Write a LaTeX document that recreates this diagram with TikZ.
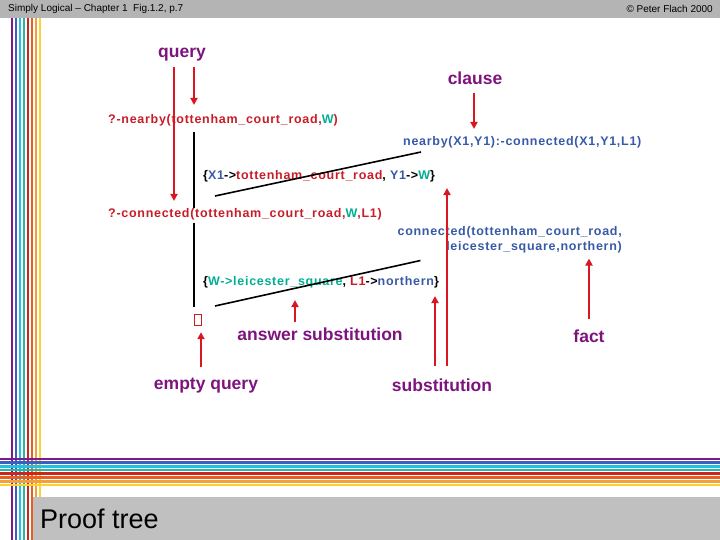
\documentclass[tikz,border=0pt]{standalone}
\usepackage{fontspec}
\setmainfont{Liberation Sans}
\newfontfamily\termfont[LetterSpace=5.7]{Liberation Sans}
\usetikzlibrary{arrows.meta,positioning,calc}
\definecolor{bargray}{RGB}{180,180,180}
\definecolor{boxgray}{RGB}{192,192,192}
\definecolor{lblpurple}{RGB}{125,20,125}
\definecolor{termred}{RGB}{200,28,40}
\definecolor{termblue}{RGB}{55,90,165}
\definecolor{termteal}{RGB}{0,175,145}
\definecolor{arrred}{RGB}{218,22,34}
\definecolor{sA}{RGB}{125,25,140}
\definecolor{sB}{RGB}{60,95,190}
\definecolor{sC}{RGB}{40,190,225}
\definecolor{sD}{RGB}{35,185,170}
\definecolor{sE}{RGB}{210,35,25}
\definecolor{sF}{RGB}{232,95,35}
\definecolor{sG}{RGB}{242,160,60}
\definecolor{sH}{RGB}{250,210,50}
\newcommand{\Rd}[1]{\textcolor{termred}{#1}}
\newcommand{\Bl}[1]{\textcolor{termblue}{#1}}
\newcommand{\Tl}[1]{\textcolor{termteal}{#1}}
\tikzset{
  term/.style={anchor=west, inner sep=0pt, font=\termfont\bfseries\fontsize{12.5}{15}\selectfont},
  lbl/.style={inner sep=0pt, text=lblpurple, font=\bfseries\fontsize{17.5}{20}\selectfont},
  redarr/.style={-{Triangle[length=7pt,width=7pt]}, arrred, line width=2.8pt},
  treeline/.style={black, line width=1.6pt},
}
\begin{document}
\begin{tikzpicture}[x=1pt, y=-1pt]
  \useasboundingbox (0,0) rectangle (720,540);
  % header bar
  \fill[bargray] (0,0) rectangle (720,18);
  \node[anchor=west, inner sep=0pt, font=\fontsize{10}{12}\selectfont] (hdl) at (8,9) {Simply Logical -- Chapter 1\ \ Fig.1.2, p.7};
  \node[anchor=east, inner sep=0pt, font=\fontsize{10}{12}\selectfont] (hdr) at (713,9) {\textcopyright{} Peter Flach 2000};
  % stripes
  \foreach \c [count=\i from 0] in {sA,sB,sC,sD,sE,sF,sG,sH}
    \fill[\c] (10.6+4*\i,18) rectangle ++(2.8,522);
  \foreach \c [count=\i from 0] in {sA,sB,sC,sD,sE,sF,sG,sH}
    \fill[\c] (0,457.6+3.7*\i) rectangle ++(720,2.7);
  \fill[boxgray] (33,497) rectangle (720,540);
  \node[anchor=west, inner sep=0pt, font=\fontsize{27}{30}\selectfont] (title) at (40,519) {Proof tree};

  % terms
  \node[term] (goal1) at (108,120) {\Rd{?-nearby(tottenham\_court\_road,}\Tl{W}\Rd{)}};
  \node[term] (clause1) at (403,142) {\Bl{nearby(X1,Y1):-connected(X1,Y1,L1)}};
  \node[term] (subst1) at (203,176) {\{\Bl{X1}->\Rd{tottenham\_court\_road}, \Bl{Y1}->\Tl{W}\}};
  \node[term] (goal2) at (108,214) {\Rd{?-connected(tottenham\_court\_road,}\Tl{W}\Rd{,L1)}};
  \node[term, anchor=east, align=right, text=termblue] (fact1) at (622,240) {connected(tottenham\_court\_road,\\leicester\_square,northern)};
  \node[term] (subst2) at (203,282) {\{\Tl{W->leicester\_square}, \Rd{L1}->\Bl{northern}\}};
  \node[draw=termred, line width=1.4pt, inner sep=0pt, minimum width=7pt, minimum height=11pt] (empty) at (198,320) {};

  % labels
  \node[lbl] (query) at (182,55) {query};
  \node[lbl] (clause) at (475,78) {clause};
  \node[lbl] (ansub) at (320,334) {answer substitution};
  \node[lbl] (factlbl) at (589,336) {fact};
  \node[lbl] (emptylbl) at (206,386) {empty query};
  \node[lbl] (sublbl) at (442,385) {substitution};

  % proof tree
  \draw[treeline] ($(goal1.west)+(86,12)$) coordinate (t1) -- (t1 |- goal2.north);
  \draw[treeline, shorten >=7pt] ($(goal2.west)+(86,9)$) coordinate (t2) -- (t2 |- empty.north);
  \draw[treeline] ($(subst1.west)+(12,20)$) -- ($(clause1.west)+(18,10)$);
  \draw[treeline] ($(subst2.west)+(12,24)$) -- ($(fact1.south west)+(23,7)$);

  % pointers
  \draw[redarr, shorten >=9pt] ($(query.south)+(12,5)$) coordinate (q1) -- (q1 |- goal1.north);
  \draw[redarr, shorten >=7pt] ($(query.south)+(-8,5)$) coordinate (q2) -- (q2 |- goal2.north);
  \draw[redarr, shorten >=7pt] ($(clause.south)+(-1,8)$) coordinate (c1) -- (c1 |- clause1.north);
  \draw[redarr] ($(sublbl.north)+(5,-12)$) coordinate (s1) -- ($(s1 |- subst1.south)+(0,6)$);
  \draw[redarr] ($(sublbl.north)+(-7,-12)$) coordinate (s2) -- ($(s2 |- subst2.south)+(0,8)$);
  \draw[redarr] ($(factlbl.north)+(0,-10)$) coordinate (f1) -- ($(f1 |- fact1.south)+(0,5)$);
  \draw[redarr] ($(ansub.north)+(-25,-5)$) coordinate (a1) -- ($(a1 |- subst2.south)+(0,12)$);
  \draw[redarr] ($(emptylbl.north)+(-5,-11)$) coordinate (e1) -- ($(e1 |- empty.south)+(0,6)$);
\end{tikzpicture}
\end{document}
